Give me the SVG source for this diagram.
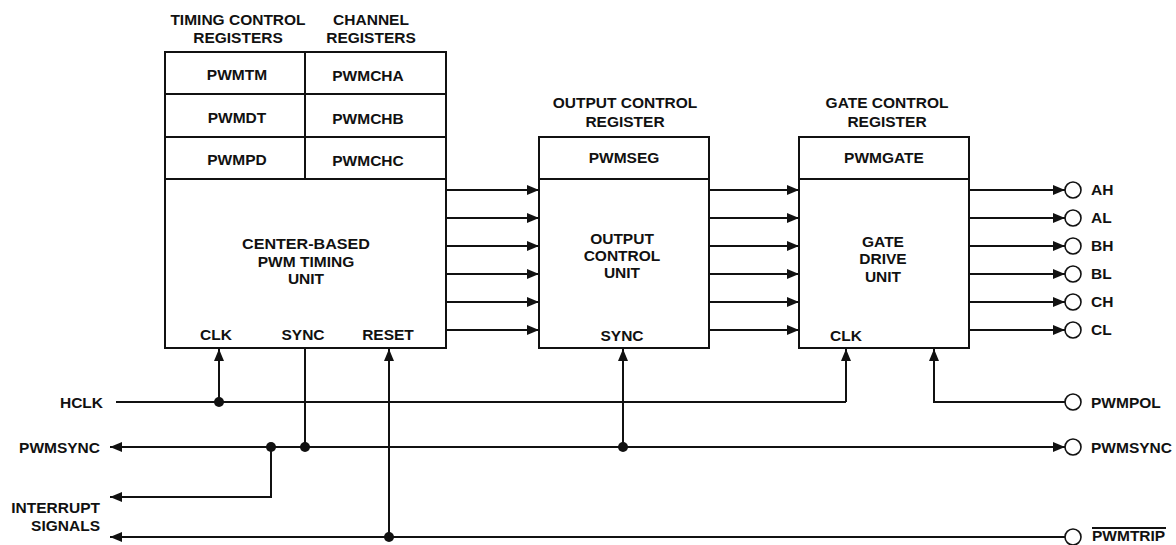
<svg xmlns="http://www.w3.org/2000/svg" width="1176" height="545" viewBox="0 0 1176 545">
<style>
text{font-family:"Liberation Sans",Arial,sans-serif;font-weight:bold;font-size:15.5px;fill:#111}
.c{text-anchor:middle}
.r{text-anchor:end}
.box{fill:#fff;stroke:#111;stroke-width:2}
.ln{fill:none;stroke:#111;stroke-width:2}
.dot{fill:#111}
.pin{fill:#fff;stroke:#111;stroke-width:1.6}
</style>
<defs>
<marker id="ah" markerWidth="12" markerHeight="10" refX="12" refY="5" orient="auto" markerUnits="userSpaceOnUse">
<path d="M0,0 L12,5 L0,10 Z" fill="#111"/>
</marker>
</defs>
<rect width="1176" height="545" fill="#fff"/>

<g id="timing-unit">
<text class="c" x="238" y="25">TIMING CONTROL</text>
<text class="c" x="238" y="43">REGISTERS</text>
<text class="c" x="371" y="25">CHANNEL</text>
<text class="c" x="371" y="43">REGISTERS</text>
<rect class="box" x="165" y="52" width="281" height="296"/>
<path class="ln" d="M305,52 V179 M165,94 H446 M165,137 H446 M165,179 H446"/>
<text class="c" x="237" y="80">PWMTM</text>
<text class="c" x="368" y="81">PWMCHA</text>
<text class="c" x="237" y="123">PWMDT</text>
<text class="c" x="368" y="124">PWMCHB</text>
<text class="c" x="237" y="165">PWMPD</text>
<text class="c" x="368" y="166">PWMCHC</text>
<text class="c" x="306" y="249" textLength="128" lengthAdjust="spacingAndGlyphs">CENTER-BASED</text>
<text class="c" x="306" y="267">PWM TIMING</text>
<text class="c" x="306" y="284">UNIT</text>
<text class="c" x="216" y="340">CLK</text>
<text class="c" x="303" y="340">SYNC</text>
<text class="c" x="388" y="340">RESET</text>
</g>

<g id="output-control">
<text class="c" x="625" y="108">OUTPUT CONTROL</text>
<text class="c" x="625" y="127">REGISTER</text>
<rect class="box" x="539" y="137" width="170" height="211"/>
<path class="ln" d="M539,179 H709"/>
<text class="c" x="624" y="163">PWMSEG</text>
<text class="c" x="622" y="244">OUTPUT</text>
<text class="c" x="622" y="261">CONTROL</text>
<text class="c" x="622" y="278">UNIT</text>
<text class="c" x="622" y="341">SYNC</text>
</g>

<g id="gate-drive">
<text class="c" x="887" y="108">GATE CONTROL</text>
<text class="c" x="887" y="127">REGISTER</text>
<rect class="box" x="799" y="137" width="170" height="211"/>
<path class="ln" d="M799,179 H969"/>
<text class="c" x="884" y="163">PWMGATE</text>
<text class="c" x="883" y="247">GATE</text>
<text class="c" x="883" y="264">DRIVE</text>
<text class="c" x="883" y="282">UNIT</text>
<text class="c" x="846" y="341">CLK</text>
</g>

<g id="pins">
<circle class="pin" cx="1073" cy="190" r="8"/><text x="1091" y="195">AH</text>
<circle class="pin" cx="1073" cy="218" r="8"/><text x="1091" y="223">AL</text>
<circle class="pin" cx="1073" cy="246" r="8"/><text x="1091" y="251">BH</text>
<circle class="pin" cx="1073" cy="274" r="8"/><text x="1091" y="279">BL</text>
<circle class="pin" cx="1073" cy="302" r="8"/><text x="1091" y="307">CH</text>
<circle class="pin" cx="1073" cy="330" r="8"/><text x="1091" y="335">CL</text>
<circle class="pin" cx="1073" cy="402" r="8"/><text x="1091" y="408">PWMPOL</text>
<circle class="pin" cx="1073" cy="447" r="8"/><text x="1091" y="453">PWMSYNC</text>
<circle class="pin" cx="1073" cy="537" r="8"/><text x="1092" y="541">PWMTRIP</text>
<path class="ln" d="M1092,528 H1166" stroke-width="1.5"/>
</g>

<g id="labels-left">
<text class="r" x="103" y="408">HCLK</text>
<text class="r" x="100" y="453">PWMSYNC</text>
<text class="r" x="100" y="513">INTERRUPT</text>
<text class="r" x="100" y="531">SIGNALS</text>
</g>

<g id="connectors">
<path class="ln" marker-end="url(#ah)" d="M447,190 H539"/>
<path class="ln" marker-end="url(#ah)" d="M447,218 H539"/>
<path class="ln" marker-end="url(#ah)" d="M447,246 H539"/>
<path class="ln" marker-end="url(#ah)" d="M447,274 H539"/>
<path class="ln" marker-end="url(#ah)" d="M447,302 H539"/>
<path class="ln" marker-end="url(#ah)" d="M447,330 H539"/>
<path class="ln" marker-end="url(#ah)" d="M709,190 H799"/>
<path class="ln" marker-end="url(#ah)" d="M709,218 H799"/>
<path class="ln" marker-end="url(#ah)" d="M709,246 H799"/>
<path class="ln" marker-end="url(#ah)" d="M709,274 H799"/>
<path class="ln" marker-end="url(#ah)" d="M709,302 H799"/>
<path class="ln" marker-end="url(#ah)" d="M709,330 H799"/>
<path class="ln" marker-end="url(#ah)" d="M969,190 H1065"/>
<path class="ln" marker-end="url(#ah)" d="M969,218 H1065"/>
<path class="ln" marker-end="url(#ah)" d="M969,246 H1065"/>
<path class="ln" marker-end="url(#ah)" d="M969,274 H1065"/>
<path class="ln" marker-end="url(#ah)" d="M969,302 H1065"/>
<path class="ln" marker-end="url(#ah)" d="M969,330 H1065"/>
<!-- HCLK -->
<path class="ln" d="M116,402 H846"/>
<path class="ln" marker-end="url(#ah)" d="M219,402 V349"/>
<path class="ln" marker-end="url(#ah)" d="M846,402 V349"/>
<circle class="dot" cx="219" cy="402" r="5"/>
<!-- PWMPOL -->
<path class="ln" marker-end="url(#ah)" d="M1065,402 H934 V349"/>
<!-- PWMSYNC -->
<path class="ln" d="M305,348 V447"/>
<path class="ln" marker-end="url(#ah)" d="M305,447 H110"/>
<path class="ln" marker-end="url(#ah)" d="M305,447 H1065"/>
<path class="ln" marker-end="url(#ah)" d="M271,447 V497 H110"/>
<path class="ln" marker-end="url(#ah)" d="M623,447 V349"/>
<circle class="dot" cx="305" cy="447" r="5"/>
<circle class="dot" cx="271" cy="447" r="5"/>
<circle class="dot" cx="623" cy="447" r="5"/>
<!-- PWMTRIP / RESET -->
<path class="ln" marker-end="url(#ah)" d="M1065,537 H110"/>
<path class="ln" marker-end="url(#ah)" d="M389,537 V349"/>
<circle class="dot" cx="389" cy="537" r="5"/>
</g>
</svg>
